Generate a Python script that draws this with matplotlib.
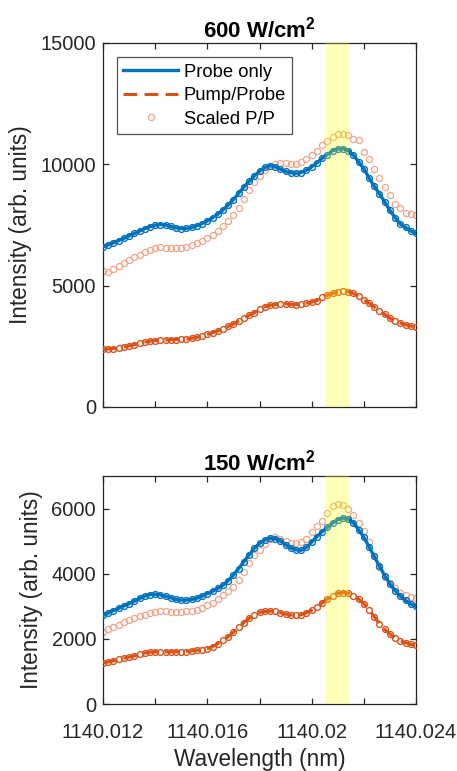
import numpy as np
import matplotlib
matplotlib.use("Agg")
import matplotlib.pyplot as plt
from matplotlib.ticker import FixedLocator, FuncFormatter

plt.rcParams['font.family'] = ['Liberation Sans', 'DejaVu Sans']
plt.rcParams['mathtext.fontset'] = 'custom'
plt.rcParams['mathtext.rm'] = 'Liberation Sans'
plt.rcParams['mathtext.bf'] = 'Liberation Sans:bold'

# wavelength (nm)
wavelength = np.round(1140.012 + np.arange(61) * 0.0002, 4)

# ---- 600 W/cm^2 ----
probe_600 = [6600, 6680, 6770, 6860, 6950, 7050, 7150, 7250, 7350, 7430,
             7490, 7520, 7500, 7440, 7380, 7350, 7360, 7400, 7470, 7560,
             7670, 7800, 7950, 8120, 8320, 8550, 8800, 9060, 9300, 9520,
             9720, 9870, 9940, 9900, 9800, 9710, 9650, 9630, 9660, 9760,
             9900, 10060, 10250, 10400, 10560, 10630, 10640, 10570, 10380, 10100,
             9820, 9440, 9100, 8780, 8450, 8100, 7800, 7540, 7400, 7260,
             7150]
pump_600 = [2380, 2390, 2410, 2430, 2470, 2520, 2570, 2620, 2670, 2710,
            2740, 2750, 2760, 2770, 2780, 2790, 2800, 2830, 2870, 2920,
            2990, 3060, 3130, 3220, 3320, 3420, 3540, 3660, 3780, 3880,
            4020, 4130, 4190, 4220, 4240, 4250, 4230, 4220, 4240, 4280,
            4320, 4380, 4520, 4600, 4680, 4730, 4760, 4750, 4680, 4560,
            4420, 4280, 4120, 3950, 3820, 3660, 3550, 3460, 3390, 3330,
            3310]
scaled_600 = [5600, 5580, 5700, 5820, 5950, 6070, 6170, 6270, 6370, 6470,
              6550, 6580, 6570, 6560, 6540, 6560, 6600, 6660, 6740, 6840,
              6960, 7090, 7250, 7450, 7680, 7930, 8220, 8560, 8950, 9280,
              9520, 9750, 9920, 10020, 10040, 10040, 10020, 10030, 10080, 10200,
              10380, 10560, 10780, 10980, 11140, 11250, 11260, 11200, 11060, 10990,
              10520, 10240, 9800, 9450, 9080, 8720, 8380, 8200, 8000, 7940,
              7930]

# ---- 150 W/cm^2 ----
probe_150 = [2720, 2790, 2870, 2940, 3010, 3080, 3160, 3240, 3310, 3360,
             3370, 3350, 3310, 3260, 3210, 3190, 3190, 3210, 3250, 3310,
             3390, 3460, 3550, 3650, 3790, 3960, 4160, 4370, 4580, 4780,
             4930, 5040, 5090, 5080, 5010, 4890, 4790, 4730, 4720, 4810,
             4970, 5140, 5290, 5420, 5550, 5660, 5710, 5680, 5560, 5350,
             5120, 4830, 4530, 4230, 3940, 3690, 3480, 3310, 3180, 3070,
             3000]
pump_150 = [1260, 1290, 1330, 1370, 1410, 1440, 1480, 1520, 1560, 1590,
            1600, 1600, 1600, 1600, 1600, 1600, 1610, 1630, 1650, 1670,
            1700, 1760, 1850, 1950, 2070, 2200, 2350, 2500, 2630, 2740,
            2810, 2840, 2850, 2840, 2800, 2760, 2730, 2720, 2740, 2800,
            2880, 2980, 3100, 3220, 3330, 3400, 3420, 3400, 3330, 3220,
            3080, 2900, 2680, 2470, 2290, 2150, 2030, 1940, 1880, 1830,
            1800]
scaled_150 = [2210, 2290, 2370, 2440, 2510, 2570, 2630, 2690, 2740, 2790,
              2830, 2850, 2840, 2830, 2830, 2830, 2840, 2860, 2900, 2960,
              3030, 3110, 3220, 3360, 3480, 3600, 3800, 4050, 4320, 4560,
              4740, 4920, 5080, 5130, 5080, 4990, 4950, 4930, 4960, 5080,
              5280, 5450, 5630, 5850, 6080, 6150, 6100, 5980, 5800, 5550,
              5300, 4960, 4550, 4200, 3900, 3700, 3550, 3420, 3340, 3280,
              3250]

titles = ['600 W/cm$^{\\mathbf{2}}$', '150 W/cm$^{\\mathbf{2}}$']
legend_labels = ['Probe only', 'Pump/Probe', 'Scaled P/P']
band = (1140.0205, 1140.02145)
xlim = (1140.012, 1140.024)
x_ticks = [1140.012, 1140.014, 1140.016, 1140.018, 1140.020, 1140.022, 1140.024]
x_labels = {1140.012: '1140.012', 1140.016: '1140.016', 1140.020: '1140.02', 1140.024: '1140.024'}

BLUE = '#0072BD'
ORANGE = '#D95319'
SALMON = '#F0A486'
AXC = '#262626'

TICK_FS = 14.5
LABEL_FS = 16.3
TITLE_FS = 16
LEG_FS = 13.2

fig = plt.figure(figsize=(4.57, 7.71), dpi=100)
ax1 = fig.add_axes([103/457, 1 - 407/771, 313/457, 364/771])
ax2 = fig.add_axes([103/457, 1 - 704/771, 313/457, 228/771])

panels = [
    (ax1, probe_600, pump_600, scaled_600, (0, 15000), [0, 5000, 10000, 15000]),
    (ax2, probe_150, pump_150, scaled_150, (0, 7000), [0, 2000, 4000, 6000]),
]

for i, (ax, pr, pu, sc, ylim, yt) in enumerate(panels):
    ax.plot(wavelength, sc, linestyle='none', marker='o', ms=4.4, mfc='none',
            mec=SALMON, mew=0.9, label=legend_labels[2], zorder=2)
    ax.plot(wavelength, pr, linestyle='none', marker='o', ms=4.2, mfc='none',
            mec=BLUE, mew=1.0, zorder=3)
    ax.plot(wavelength, pr, color=BLUE, lw=2.4, label=legend_labels[0], zorder=4)
    ax.plot(wavelength, pu, linestyle='none', marker='o', ms=4.2, mfc='none',
            mec=ORANGE, mew=1.0, zorder=3)
    ax.plot(wavelength, pu, color=ORANGE, lw=2.2, ls=(0, (4.5, 2.4)),
            label=legend_labels[1], zorder=4)
    ax.axvspan(band[0], band[1], color=(1, 1, 0), alpha=0.27, lw=0, zorder=5)

    ax.set_xlim(*xlim)
    ax.set_ylim(*ylim)
    ax.xaxis.set_major_locator(FixedLocator(x_ticks))
    if i == 0:
        ax.set_xticklabels([])
    else:
        ax.xaxis.set_major_formatter(FuncFormatter(
            lambda v, p: x_labels.get(round(v, 3), '')))
        ax.set_xlabel('Wavelength (nm)', fontsize=LABEL_FS, color=AXC, labelpad=4)
    ax.set_yticks(yt)
    ax.set_ylabel('Intensity (arb. units)', fontsize=LABEL_FS, color=AXC, labelpad=6)
    ax.tick_params(direction='in', top=True, right=True, length=4, width=0.9,
                   labelsize=TICK_FS, colors=AXC)
    ax.tick_params(axis='y', pad=5)
    ax.tick_params(axis='x', pad=14)
    for s in ax.spines.values():
        s.set_color(AXC)
        s.set_linewidth(0.9)
    ax.set_title(titles[i], fontsize=TITLE_FS, fontweight='bold', pad=4)

handles, labels = ax1.get_legend_handles_labels()
order = [labels.index(l) for l in legend_labels]
leg = ax1.legend([handles[k] for k in order], [labels[k] for k in order],
                 loc='upper left', bbox_to_anchor=(0.044, 0.961), fontsize=LEG_FS,
                 frameon=True, fancybox=False, edgecolor=AXC, handlelength=3.0,
                 borderpad=0.35, labelspacing=0.36, handletextpad=0.3,
                 borderaxespad=0.0)
leg.get_frame().set_linewidth(0.9)
leg.set_zorder(10)

fig.savefig('out.png', dpi=100)
